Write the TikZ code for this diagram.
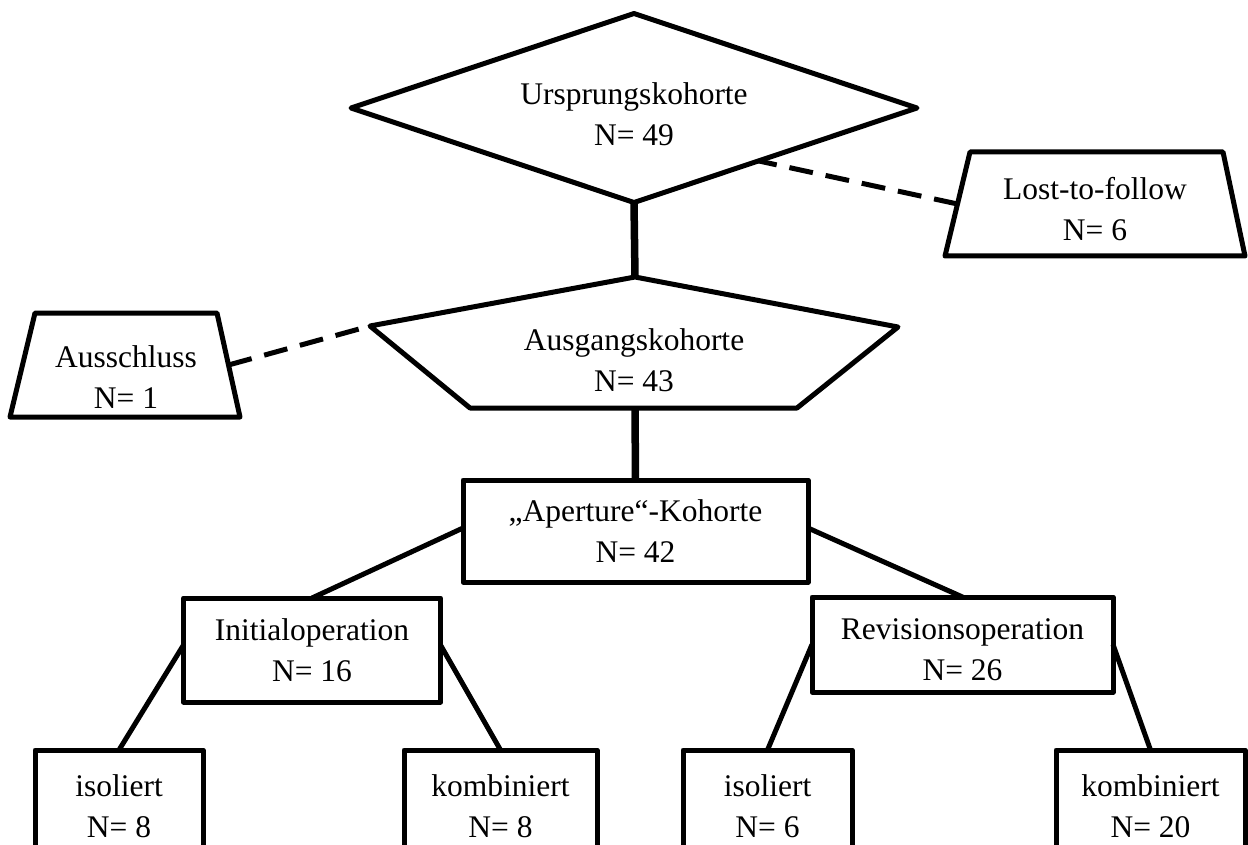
\documentclass[tikz,border=0pt]{standalone}
\usepackage{fontspec}
\setmainfont{Liberation Serif}
\usetikzlibrary{shapes.geometric,calc}

\tikzset{
  lbl/.style={font=\fontsize{31.5}{41}\selectfont, align=center, inner sep=0pt},
  shapeline/.style={line width=5pt, line join=round},
  box/.style={shapeline, draw, rectangle, lbl, outer sep=0pt},
  link/.style={line width=5pt},
  trunk/.style={line width=7.5pt},
  droplink/.style={line width=5pt, dash pattern=on 24pt off 13pt}
}

\begin{document}
\begin{tikzpicture}[x=1pt, y=-1pt]
  \clip (0,0) rectangle (1248,845);

  % origin cohort
  \node[diamond, draw, shapeline, outer sep=0pt, minimum width=566pt, minimum height=189pt] (urs) at (634,108) {};
  \node[lbl] (ursT) at (634,114) {Ursprungskohorte\\N= 49};

  % starting cohort (pentagon)
  \coordinate (pT)  at (635,277);
  \coordinate (pL)  at (370,326);
  \coordinate (pR)  at (898,327);
  \coordinate (pBR) at (797,408);
  \coordinate (pBL) at (470,408);
  \coordinate (pB)  at (635,408);
  \draw[shapeline] (pT) -- (pR) -- (pBR) -- (pBL) -- (pL) -- cycle;
  \node[lbl] (ausg) at (634,360) {Ausgangskohorte\\N= 43};

  % exclusions (trapezia)
  \draw[shapeline] (35,313) -- (217,313) -- (240,417) -- (10,417) -- cycle;
  \node[lbl] (aus) at (126,377) {Ausschluss\\N= 1};
  \coordinate (ausE) at (228.5,365);

  \draw[shapeline] (970,152) -- (1223,152) -- (1245,256) -- (945,256) -- cycle;
  \node[lbl] (lost) at (1095,209) {Lost-to-follow\\N= 6};
  \coordinate (lostW) at (957.5,204);

  % boxes
  \node[box, minimum width=345pt, minimum height=102pt] (ap)   at (635.5,531) {„Aperture“-Kohorte\\N= 42};
  \node[box, minimum width=257pt, minimum height=104pt] (init) at (312,650)   {Initialoperation\\N= 16};
  \node[box, minimum width=301pt, minimum height=95pt]  (rev)  at (962.5,644.5) {};
  \node[lbl] (revT) at (962.5,650) {Revisionsoperation\\N= 26};

  \node[box, minimum width=168pt, minimum height=113pt] (iso1) at (119,806.5)    {isoliert\\N= 8};
  \node[box, minimum width=193pt, minimum height=113pt] (kom1) at (500.5,806.5)  {kombiniert\\N= 8};
  \node[box, minimum width=169pt, minimum height=113pt] (iso2) at (767.5,806.5)  {isoliert\\N= 6};
  \node[box, minimum width=189pt, minimum height=113pt] (kom2) at (1150.5,806.5) {kombiniert\\N= 20};

  % connectors
  \coordinate (ursD) at ($(urs.east)!0.56!(urs.south)$);
  \draw[trunk] (urs.south) -- (pT);
  \draw[trunk] (pB) -- (ap.north);
  \draw[droplink] (lostW) -- (ursD);
  \draw[droplink] (ausE) -- (pL);
  \draw[link] ([yshift=3pt]ap.west) -- (init.north);
  \draw[link] ([yshift=3pt]ap.east) -- (rev.north);
  \draw[link] ([yshift=5pt]init.west) -- (iso1.north);
  \draw[link] ([yshift=5pt]init.east) -- (kom1.north);
  \draw[link] (rev.west) -- (iso2.north);
  \draw[link] (rev.east) -- (kom2.north);
\end{tikzpicture}
\end{document}
